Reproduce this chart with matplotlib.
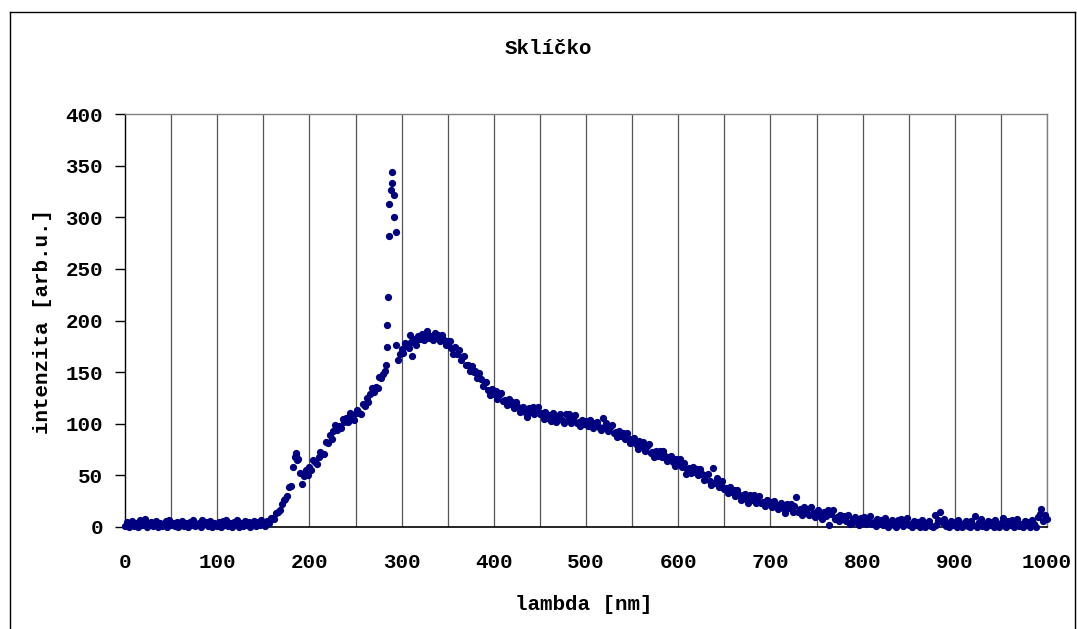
import numpy as np
import matplotlib
matplotlib.use("Agg")
import matplotlib.pyplot as plt
from matplotlib.lines import Line2D

# ---- data ----
wavelength_step = 2
intensity = [
    1, 5, 0, 3, 6, 1, 4, 0, 7, 2,            # 0-18
    4, 8, 0, 3, 5, 1, 2, 6, 0, 4,            # 20-38
    1, 3, 6, 0, 7, 2, 4, 1, 5, 0,            # 40-58
    2, 6, 1, 4, 0, 5, 2, 7, 1, 3,            # 60-78
    4, 0, 7, 3, 5, 1, 6, 0, 4, 2,            # 80-98
    1, 5, 0, 6, 2, 7, 1, 4, 0, 5,            # 100-118
    3, 7, 0, 4, 1, 6, 2, 5, 0, 3,            # 120-138
    6, 1, 5, 2, 7, 3, 1, 6, 4, 9,            # 140-158
    9, 8, 14, 15, 16, 22, 26, 27, 30, 39,    # 160-178
    40, 58, 68, 71, 66, 52, 42, 49, 55, 50,  # 180-198
    58, 55, 65, 63, 61, 68, 73, 71, 71, 82,            # 200-218
    81, 89, 85, 93, 99, 94, 98, 96, 105, 102,          # 220-238
    106, 102, 110, 107, 104, 110, 113, 110, 109, 119,  # 240-258
    117, 125, 121, 129, 135, 131, 136, 135, 145, 144,  # 260-278
    148, 151, 174, 282, 326, 344, 300, 286, 162, 168,  # 280-298
    172, 169, 178, 176, 173, 179, 182, 178, 176, 185,  # 300-318
    182, 187, 181, 186, 190, 183, 185, 181, 188, 184,  # 320-338
    186, 180, 186, 181, 176, 180, 180, 173, 168, 174,  # 340-358
    168, 171, 162, 165, 166, 157, 157, 151, 156, 150,  # 360-378
    151, 144, 149, 143, 137, 140, 140, 133, 128, 134,  # 380-398
    129, 132, 124, 128, 130, 122, 123, 118, 124, 119,  # 400-418
    121, 115, 121, 116, 111, 115, 116, 111, 107, 115,  # 420-438
    111, 116, 109, 114, 116, 109, 110, 105, 111, 106,  # 440-458
    108, 103, 110, 106, 102, 107, 109, 104, 101, 109,  # 460-478
    104, 109, 101, 106, 108, 101, 102, 98, 104, 100,   # 480-498
    103, 98, 104, 100, 96, 101, 102, 97, 94, 106,      # 500-518
    97, 101, 93, 97, 99, 91, 92, 87, 93, 88,           # 520-538
    91, 85, 91, 86, 81, 85, 86, 80, 76, 83,            # 540-558
    78, 82, 74, 78, 80, 72, 73, 68, 74, 69,            # 560-578
    74, 68, 74, 69, 64, 68, 69, 63, 59, 66,            # 580-598
    62, 66, 58, 62, 51, 56, 57, 52, 58, 53,            # 600-618
    56, 50, 56, 51, 46, 50, 51, 45, 41, 57,            # 620-638
    43, 47, 39, 43, 45, 37, 38, 33, 39, 34,            # 640-658
    36, 30, 36, 31, 26, 31, 32, 27, 23, 31,            # 660-678
    26, 31, 23, 28, 30, 23, 24, 20, 26, 22,            # 680-698
    24, 19, 25, 21, 17, 21, 23, 18, 14, 22,            # 700-718
    18, 22, 15, 20, 29, 15, 17, 12, 19, 15,            # 720-738
    17, 12, 19, 14, 10, 15, 16, 11, 8, 15,             # 740-758
    11, 16, 2, 13, 16, 8, 10, 6, 12, 8,                # 760-778
    11, 6, 12, 3, 4, 8, 10, 5, 2, 9,                   # 780-798
    5, 10, 3, 8, 11, 3, 5, 1, 8, 4,                    # 800-818
    7, 2, 9, 5, 0, 5, 7, 2, 0, 7,                      # 820-838
    3, 8, 1, 6, 9, 2, 3, 0, 6, 2,                      # 840-858
    5, 0, 7, 3, 0, 4, 6, 1, 0, 12,                     # 860-878
    2, 7, 15, 5, 8, 1, 3, 0, 6, 2,                     # 880-898
    5, 0, 7, 3, 0, 4, 6, 1, 0, 6,                      # 900-918
    2, 11, 0, 5, 8, 1, 3, 0, 6, 2,                     # 920-938
    5, 0, 7, 3, 0, 4, 9, 1, 0, 6,                      # 940-958
    2, 7, 0, 5, 8, 1, 3, 0, 6, 2,                      # 960-978
    5, 0, 7, 3, 0, 10, 13, 17, 6, 12,                  # 980-998
    8,                                                 # 1000
]
wavelength = np.arange(len(intensity)) * wavelength_step

# extra points of the sharp line and the bump near 185 nm
extra_x = [185, 187, 283, 284.2, 285.3, 286.7, 289.6, 291.4, 294.3, 309, 311]
extra_y = [72, 65, 157, 196, 223, 313, 333, 322, 176, 186, 166]

title = "Sklíčko"
xlabel = "lambda [nm]"
ylabel = "intenzita [arb.u.]"
xticks = list(range(0, 1001, 100))
yticks = list(range(0, 401, 50))
grid_x = list(range(50, 1001, 50))

# ---- figure ----
W, H = 1077, 629
fig = plt.figure(figsize=(W / 100, H / 100), dpi=100)
fig.patch.set_facecolor("white")

font = dict(family=["Liberation Mono", "DejaVu Sans Mono"], weight="bold", size=15)

ax = fig.add_axes([125 / W, 1 - 527 / H, (1047 - 125) / W, (527 - 114) / H])
ax.set_xlim(0, 1000)
ax.set_ylim(0, 400)

for gx in grid_x:
    ax.axvline(gx, color="#555555", lw=0.9, zorder=1)

ax.plot(wavelength, intensity, ls="none", marker="o", ms=4.2,
        color="#000080", mec="#000080", zorder=3, clip_on=False)
ax.plot(extra_x, extra_y, ls="none", marker="o", ms=4.2,
        color="#000080", mec="#000080", zorder=3, clip_on=False)

ax.set_xticks(xticks)
ax.set_yticks(yticks)
ax.tick_params(axis="x", length=0, pad=19)
ax.tick_params(axis="y", length=7, width=1, pad=9, direction="out")
for lab in ax.get_xticklabels() + ax.get_yticklabels():
    lab.set_fontfamily(font["family"])
    lab.set_fontweight("bold")
    lab.set_fontsize(15)

for side in ["top", "right"]:
    ax.spines[side].set_color("#808080")
    ax.spines[side].set_linewidth(1)
ax.spines["left"].set_color("black")
ax.spines["bottom"].set_color("black")
ax.spines["left"].set_linewidth(1)
ax.spines["bottom"].set_linewidth(1.2)

fig.text(548 / W, 1 - 49 / H, title, ha="center", va="center", **font)
fig.text(584 / W, 1 - 604 / H, xlabel, ha="center", va="center", **font)
fig.text(43 / W, 1 - 322 / H, ylabel, ha="center", va="center", rotation=90, **font)

# outer chart-area border
bx0, bx1, by = 10 / W, 1075 / W, 1 - 12 / H
fig.add_artist(Line2D([bx0, bx0], [-0.01, by], color="black", lw=1, transform=fig.transFigure))
fig.add_artist(Line2D([bx0, bx1], [by, by], color="black", lw=1, transform=fig.transFigure))
fig.add_artist(Line2D([bx1, bx1], [-0.01, by], color="black", lw=1, transform=fig.transFigure))

fig.savefig("out.png", dpi=100, facecolor="white")
